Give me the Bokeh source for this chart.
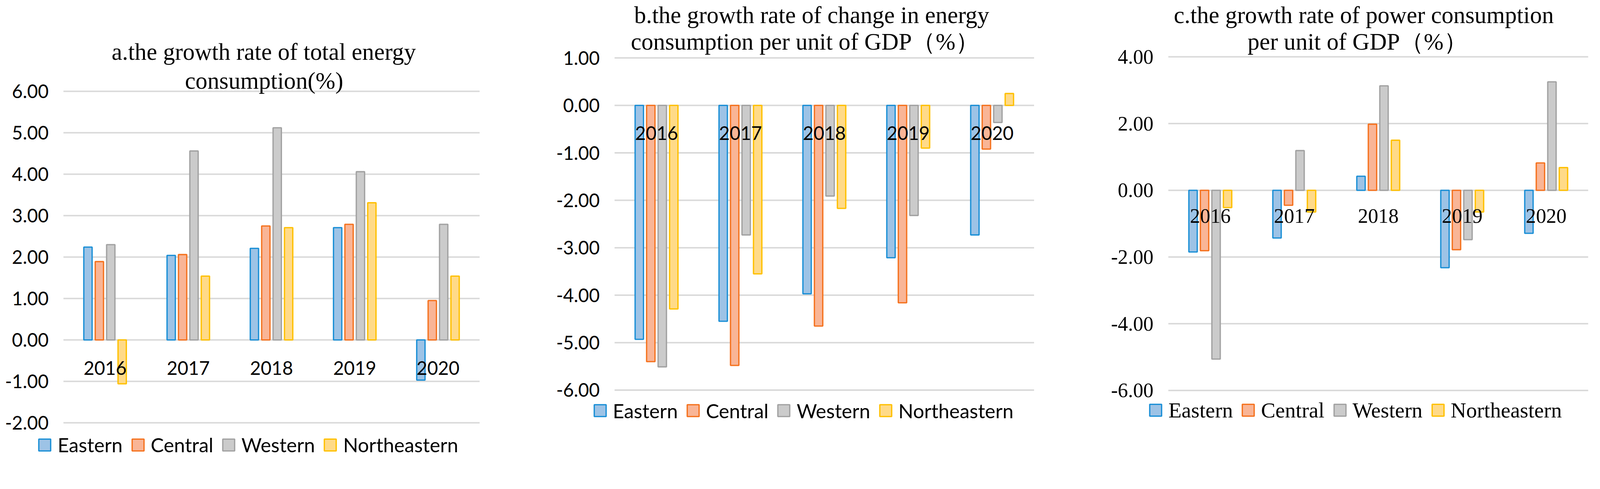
from bokeh.plotting import figure
from bokeh.layouts import row
from bokeh.models import Range1d, Legend, LegendItem, Label, ColumnDataSource
from bokeh.transform import dodge
from bokeh.core.properties import value
from bokeh.embed import file_html
from bokeh.resources import INLINE

# ---------------- data ----------------
years = ["2016", "2017", "2018", "2019", "2020"]
series = ["Eastern", "Central", "Western", "Northeastern"]

# a. growth rate of total energy consumption (%)
a_eastern = [2.24, 2.04, 2.21, 2.71, -0.97]
a_central = [1.89, 2.06, 2.75, 2.79, 0.95]
a_western = [2.30, 4.56, 5.12, 4.06, 2.79]
a_northeastern = [-1.06, 1.54, 2.71, 3.31, 1.54]

# b. growth rate of change in energy consumption per unit of GDP (%)
b_eastern = [-4.93, -4.55, -3.97, -3.21, -2.73]
b_central = [-5.40, -5.48, -4.65, -4.16, -0.92]
b_western = [-5.51, -2.73, -1.91, -2.32, -0.36]
b_northeastern = [-4.29, -3.55, -2.17, -0.90, 0.25]

# c. growth rate of power consumption per unit of GDP (%)
c_eastern = [-1.85, -1.43, 0.42, -2.32, -1.29]
c_central = [-1.81, -0.45, 1.98, -1.78, 0.82]
c_western = [-5.06, 1.19, 3.13, -1.48, 3.25]
c_northeastern = [-0.52, -0.65, 1.50, -0.65, 0.68]

a_ticks = [-2, -1, 0, 1, 2, 3, 4, 5, 6]
b_ticks = [-6, -5, -4, -3, -2, -1, 0, 1]
c_ticks = [-6, -4, -2, 0, 2, 4]

a_title = ["a.the growth rate of total energy", "consumption(%)"]
b_title = ["b.the growth rate of change in energy", "consumption per unit of GDP\uff08%\uff09"]
c_title = ["c.the growth rate of power consumption", "per unit of GDP\uff08%\uff09"]

# ---------------- style / layout ----------------
line_colors = ["#1A8FD6", "#F5721E", "#A2A2A2", "#FFC000"]
fill_colors = ["#9DC3E6", "#F9B596", "#CBCBCB", "#FFDA88"]
offsets = [-0.2055, -0.0685, 0.0685, 0.2055]
SERIF = "Liberation Serif"
SANS = "Lato"

S = 4096 / 4314          # css px per picture px
TOP, BOTTOM = 8, 1180    # css page y of the layout's top and bottom


def css(v):
    return v * S


def fpx(v):
    return "%.1fpx" % (v * S)


def make_panel(vals, ticks, title, fl, fr, frame_left, frame_right,
               v_top, ref_top, v_bot, ref_bot, title_pos, label_y, font, fsize,
               lsize, leg_x, leg_center):
    n = len(years)
    width = fr - fl
    xl, xr = css(frame_left), css(frame_right)
    ppx = (xr - xl) / n
    x0 = -(xl - fl) / ppx
    x1 = n + (fr - xr) / ppx
    ppu = (ref_bot - ref_top) / (v_top - v_bot)
    hi = v_top + (ref_top - TOP / S) / ppu
    lo = v_bot - (BOTTOM / S - ref_bot) / ppu

    p = figure(width=width, height=BOTTOM - TOP, x_range=Range1d(x0, x1),
               y_range=Range1d(lo, hi), output_backend="svg",
               toolbar_location=None, x_axis_location=None, y_axis_location=None,
               min_border=0, outline_line_color=None,
               background_fill_color="white", border_fill_color="white")
    p.grid.visible = False

    # value gridlines and their labels
    tsrc = ColumnDataSource(dict(t=ticks, lab=["%.2f" % t for t in ticks]))
    p.segment(x0=0, x1=n, y0="t", y1="t", source=tsrc,
              line_color="#D9D9D9", line_width=4 * S)
    p.text(x=0, y="t", text="lab", source=tsrc, x_offset=-css(40),
           text_align="right", text_baseline="middle", text_font=value(font),
           text_font_size=fsize, text_color="black")

    data = dict(year=years, x=[i + 0.5 for i in range(n)])
    for s, v in zip(series, vals):
        data[s] = v
    src = ColumnDataSource(data)

    items = []
    for i, s in enumerate(series):
        r = p.vbar(x=dodge("x", offsets[i]), top=s, bottom=0, width=0.1,
                   source=src, fill_color=fill_colors[i],
                   line_color=line_colors[i], line_width=3.5 * S)
        items.append(LegendItem(label=s, renderers=[r]))

    # category labels sit just under the zero line
    p.text(x="x", y=label_y, text="year", source=src,
           text_font=value(font), text_font_size=fsize, text_color="black",
           text_align="center", text_baseline="middle")

    for txt, (ty, xo) in zip(title, title_pos):
        p.add_layout(Label(x=n / 2, y=ty, x_offset=xo * S, text=txt,
                           text_align="center", text_baseline="middle",
                           text_font=SERIF, text_font_size=fpx(64),
                           text_color="black"))

    vx = css(leg_x) - fl
    vy = (BOTTOM - css(leg_center)) - 30
    leg = Legend(items=items, location=(vx, vy), orientation="horizontal",
                 glyph_width=round(css(40)), glyph_height=round(css(40)),
                 label_standoff=round(css(15)), spacing=round(css(21)),
                 padding=0, margin=0, border_line_color=None,
                 background_fill_alpha=0, label_text_font=font,
                 label_text_font_size=lsize, label_text_color="black")
    p.add_layout(leg)
    return p


pa = make_panel([a_eastern, a_central, a_western, a_northeastern], a_ticks, a_title,
                8, 1405, 179, 1301, 6, 254, -2, 1147,
                [(6.95, -21), (6.26, -20)], -0.68, SANS, fpx(50), fpx(53),
                109, 1207)
pb = make_panel([b_eastern, b_central, b_western, b_northeastern], b_ticks, b_title,
                1405, 2753, 1665, 2796, 1, 164, -6, 1059,
                [(1.907, -34), (1.344, -52)], -0.58, SANS, fpx(50), fpx(53),
                1606, 1115)
pc = make_panel([c_eastern, c_central, c_western, c_northeastern], c_ticks, c_title,
                2753, 4088, 3158, 4290, 4, 161, -6, 1060,
                [(5.257, -39), (4.456, -56)], -0.77, SERIF, fpx(55), fpx(58),
                3104, 1115)

layout = row(pa, pb, pc)
open("out.html", "w").write(file_html(layout, INLINE))
